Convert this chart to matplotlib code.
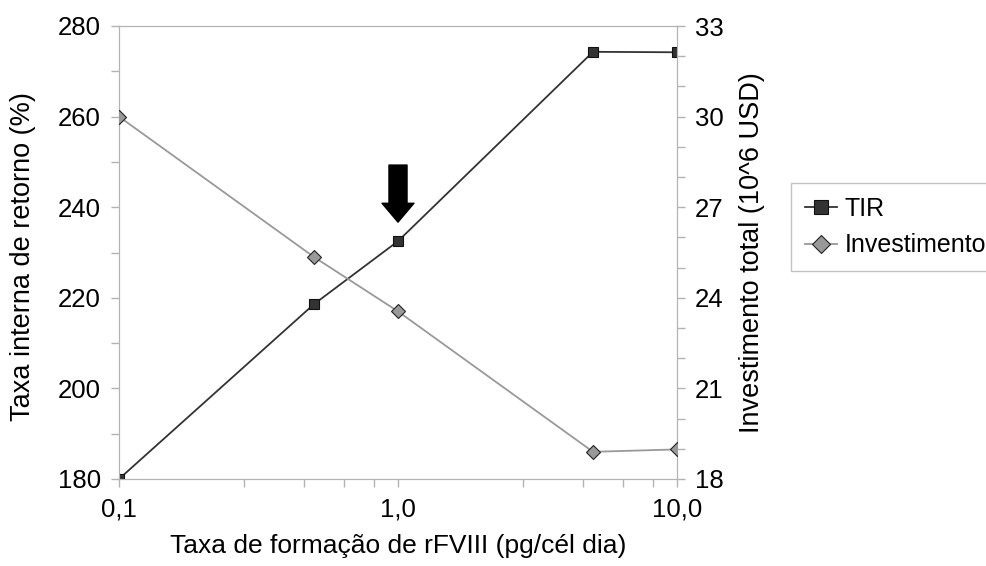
import matplotlib.pyplot as plt
import numpy as np

plt.rcParams['font.family'] = ['Liberation Sans', 'DejaVu Sans']

# dados
taxa = [0.1, 0.5, 1.0, 5.0, 10.0]
tir = [180.0, 218.6, 232.5, 274.3, 274.2]
investimento = [30.0, 25.35, 23.55, 18.9, 18.98]

x_ticks = [0.1, 1.0, 10.0]
x_labels = ['0,1', '1,0', '10,0']

cinza = '#b3b3b3'

fig = plt.figure(figsize=(9.86, 5.66), dpi=100)
ax = fig.add_axes([119 / 986, 87 / 566, 558 / 986, 453 / 566])
ax2 = ax.twinx()

l1, = ax.plot(taxa, tir, color='#333333', lw=1.3, marker='s', ms=7,
              mfc='#333333', mec='#111111', mew=0.8, label='TIR', zorder=3)
l2, = ax2.plot(taxa, investimento, color='#999999', lw=1.3, marker='D', ms=7,
               mfc='#999999', mec='#222222', mew=0.8, label='Investimento', zorder=3)

ax.set_xscale('log')
ax.set_xlim(0.1, 10)
ax.set_xticks(x_ticks)
ax.set_xticklabels(x_labels)
minors = [0.1 + 0.18 * k for k in range(1, 5)] + [1 + 1.8 * k for k in range(1, 5)]
ax.set_xticks(minors, minor=True)
ax.xaxis.set_minor_formatter(plt.NullFormatter())

ax.set_ylim(180, 280)
ax.set_yticks(np.arange(180, 281, 20))
ax.set_yticks(np.arange(190, 280, 20), minor=True)
ax2.set_ylim(18, 33)
ax2.set_yticks(np.arange(18, 34, 3))
ax2.set_yticks([v for v in range(19, 33) if v % 3 != 0], minor=True)

for a in (ax, ax2):
    for s in a.spines.values():
        s.set_color(cinza)
    a.tick_params(which='both', direction='out', length=6, color=cinza,
                  labelsize=18.5, width=1, pad=7)

ax.set_xlabel('Taxa de formação de rFVIII (pg/cél dia)', fontsize=19, va='center')
ax.xaxis.set_label_coords(0.5, -0.148)
ax.set_ylabel('Taxa interna de retorno (%)', fontsize=19.5, va='center')
ax.yaxis.set_label_coords(-0.172, 0.49)
ax2.set_ylabel('Investimento total (10^6 USD)', fontsize=19.5, va='center')
ax2.yaxis.set_label_coords(1.134, 0.5)

# seta indicando o ponto escolhido
ax.annotate('', xy=(1.0, 236.7), xytext=(1.0, 249.3),
            arrowprops=dict(arrowstyle='simple,head_length=0.68,head_width=1.15,tail_width=0.65',
                            color='black', mutation_scale=20, shrinkA=0, shrinkB=0))

leg = fig.legend(handles=[l1, l2], loc='upper left', bbox_to_anchor=(791 / 986, 1 - 183 / 566),
                 fontsize=18, frameon=True, fancybox=False, edgecolor=cinza,
                 handlelength=1.3, handletextpad=0.3, borderpad=0.55,
                 labelspacing=0.5, borderaxespad=0, markerscale=1.35)
leg.get_frame().set_linewidth(1)

fig.savefig('out.png', dpi=100)
